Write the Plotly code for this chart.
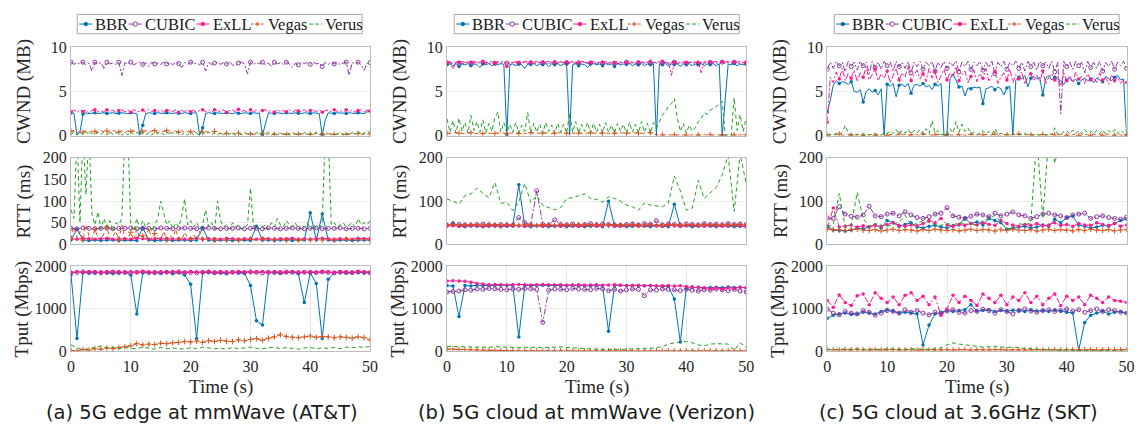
import plotly.graph_objects as go

W, H = 1144, 434

# ---------------- sampling grids (seconds) ----------------
T_HALF = [i / 2 for i in range(101)]
T_ONE = list(range(51))

# ================= (a) 5G edge at mmWave (AT&T) =================
A_CWND_BBR = [2.6,2.55,0.1,0.4,2.45,2.6,2.5,2.55,2.6,2.5,
              2.55,2.6,2.5,2.55,2.6,2.5,2.55,2.6,2.55,2.5,
              2.6,2.55,2.5,0.05,1.2,2.5,2.6,2.55,2.5,2.6,
              2.55,2.5,2.6,2.55,2.5,2.6,2.55,2.5,2.6,2.55,
              2.5,2.6,2.55,0.05,0.9,2.5,2.6,2.55,2.5,2.6,
              2.55,2.5,2.6,2.55,2.5,2.6,2.55,2.5,2.6,2.55,
              2.5,2.6,2.55,2.5,0.05,1.4,2.6,2.55,2.5,2.6,
              2.55,2.5,2.6,2.55,2.5,2.6,2.55,2.5,2.6,2.55,
              2.5,2.6,2.55,2.5,0.05,1.8,2.6,2.55,2.5,2.6,
              2.6,2.55,2.5,2.6,2.55,2.5,2.6,2.55,2.5,2.7,
              2.8]
A_CWND_CUBIC = [8.3,8.05,8.25,8.1,8.3,8.0,8.2,7.3,8.3,8.1,
                8.25,7.6,8.3,8.1,8.2,8.05,8.3,6.8,8.25,8.1,
                8.3,8.0,8.2,8.3,8.05,8.25,7.8,8.3,8.1,8.2,
                8.05,8.3,8.1,8.25,8.0,8.3,8.15,7.7,8.25,8.05,
                8.3,8.1,8.2,8.0,8.3,7.3,8.25,8.05,8.2,8.3,
                8.05,8.25,8.1,8.3,8.0,7.9,8.2,8.3,8.1,7.0,
                8.3,8.05,8.25,8.1,8.3,8.0,8.2,7.8,8.3,8.1,
                8.25,8.05,8.3,8.1,7.7,8.2,8.0,8.3,8.15,8.25,
                8.05,8.3,8.1,8.2,7.8,8.3,8.05,8.25,8.1,8.3,
                8.0,8.2,8.3,6.8,8.25,8.1,8.3,8.0,7.4,8.2,
                8.25]
A_CWND_EXLL = [2.7,2.9,2.65,2.95,2.75,2.9,2.6,2.85,2.95,2.7,
               2.85,2.65,2.95,2.75,2.9,2.6,2.85,2.95,2.7,2.9,
               2.65,2.95,2.8,2.7,2.9,2.65,3.0,2.75,2.85,2.7,
               2.95,2.65,2.85,2.9,2.7,2.95,2.65,2.85,2.75,2.95,
               2.7,2.9,2.65,2.85,2.95,2.7,2.9,2.65,2.95,2.8,
               2.7,2.95,2.65,2.85,2.9,2.7,3.0,2.75,2.85,2.65,
               2.95,2.7,2.9,2.65,2.85,2.95,2.7,2.9,2.65,2.95,
               2.75,2.85,2.7,2.95,2.65,2.9,2.8,2.7,2.95,2.65,
               2.85,2.9,2.7,2.95,2.65,2.85,2.9,2.7,2.95,2.75,
               2.85,2.65,2.95,2.7,2.9,2.65,2.85,2.95,2.7,2.9,
               2.8]
A_CWND_VEGAS = [0.5,0.6,0.3,0.55,0.4,0.6,0.35,0.55,0.5,0.3,
                0.6,0.45,0.55,0.3,0.6,0.5,0.4,0.6,0.35,0.55,
                0.5,0.6,0.3,0.55,0.45,0.6,0.4,0.5,0.6,0.35,
                0.55,0.45,0.6,0.3,0.5,0.55,0.4,0.6,0.35,0.5,
                0.45,0.55,0.3,0.5,0.4,0.55,0.35,0.45,0.5,0.3,
                0.25,0.2,0.3,0.15,0.25,0.2,0.3,0.15,0.2,0.25,
                0.2,0.15,0.25,0.2,0.3,0.15,0.2,0.25,0.15,0.2,
                0.25,0.2,0.15,0.3,0.2,0.25,0.15,0.2,0.25,0.2,
                0.15,0.2,0.25,0.2,0.15,0.3,0.2,0.25,0.15,0.2,
                0.25,0.2,0.15,0.2,0.3,0.2,0.25,0.15,0.2,0.25,
                0.2]
A_CWND_VERUS = [0.1,0.45,0.05,0.4,0.15,0.5,0.1,0.35,0.05,0.45,
                0.15,0.4,0.05,0.5,0.1,0.3,0.45,0.05,0.35,0.1,
                0.5,0.15,0.4,0.05,0.45,0.1,0.35,0.05,0.5,0.2,
                0.4,0.1,0.45,0.05,0.35,0.15,0.5,0.1,0.4,0.05,
                0.45,0.1,0.3,0.05,0.4,0.15,0.45,0.1,0.35,0.05,
                0.4,0.1,0.35,0.15,0.45,0.05,0.3,0.1,0.4,0.15,
                0.35,0.05,0.4,0.1,0.3,0.15,0.45,0.05,0.35,0.1,
                0.4,0.15,0.3,0.05,0.45,0.1,0.35,0.15,0.4,0.05,
                0.3,0.1,0.45,0.15,0.35,0.05,0.4,0.1,0.3,0.15,
                0.45,0.05,0.35,0.1,0.4,0.15,0.5,0.1,0.35,0.55,
                0.3]

A_RTT_BBR = [10,35,10,9,10,9,10,10,9,10,
             10,9,38,10,9,10,10,9,10,10,
             9,10,38,10,9,10,10,9,10,10,
             9,42,10,10,9,10,10,9,10,10,
             73,10,70,10,9,10,10,9,10,10,
             10]
A_RTT_CUBIC = [37,36,38,37,36,37,38,36,37,37,
               38,36,37,37,36,38,37,36,37,38,
               37,36,37,38,37,36,37,37,38,36,
               37,37,36,38,37,36,37,38,37,36,
               37,38,36,37,37,38,36,37,37,36,
               37]
A_RTT_EXLL = [13,12,14,13,12,13,14,12,13,13,
              12,14,13,12,13,13,14,12,13,12,
              13,14,12,13,13,12,14,13,12,13,
              13,12,14,13,12,13,13,14,12,13,
              12,13,14,13,12,13,13,12,14,13,
              14]
A_RTT_VEGAS = [12,40,15,30,10,45,20,12,35,15,
               10,25,40,12,18,30,10,45,15,12,
               28,10,35,15,20,12,38,10,25,14,
               12,30,10,20,15,35,12,10,28,15,
               12,22,10,30,12,18,10,11,10,11,
               10,12,10,11,10,11,10,11,10,11,
               12,10,11,10,11,10,11,10,11,10,
               12,11,10,11,10,11,10,11,10,11,
               10,12,10,11,10,11,10,11,10,11,
               10,11,12,10,11,10,11,10,11,10,
               11]
A_RTT_VERUS = [80,60,260,50,260,115,260,70,45,75,
               35,60,40,55,30,50,45,60,260,260,
               45,30,60,35,55,40,50,30,45,60,
               100,70,45,55,35,50,40,65,105,45,
               55,40,50,35,45,80,40,50,35,100,
               55,40,45,35,50,40,45,35,40,45,
               130,40,45,35,40,45,35,50,40,60,
               45,40,55,45,40,50,35,45,40,50,
               35,45,40,35,50,260,260,45,50,40,
               45,50,40,45,50,40,60,45,50,45,
               55]

A_TPUT_BBR = [1800,300,1850,1860,1840,1870,1850,1830,1860,1850,
              1800,880,1850,1860,1840,1850,1870,1830,1850,1800,
              1580,300,1850,1860,1840,1850,1830,1860,1850,1840,
              1550,720,620,1850,1860,1840,1850,1870,1830,1150,
              1850,1600,300,1700,1850,1860,1840,1850,1860,1850,
              1850]
A_TPUT_CUBIC = [1850,1860,1870,1855,1865,1850,1860,1870,1855,1860,
                1850,1865,1870,1855,1860,1850,1865,1860,1870,1855,
                1860,1850,1865,1870,1855,1860,1850,1865,1860,1855,
                1870,1860,1850,1865,1860,1855,1870,1860,1850,1865,
                1860,1855,1870,1860,1850,1865,1860,1855,1870,1860,
                1850]
A_TPUT_EXLL = [1860,1875,1865,1880,1870,1860,1875,1870,1880,1865,
               1875,1860,1880,1870,1865,1875,1860,1880,1870,1865,
               1875,1870,1860,1880,1865,1875,1870,1860,1880,1875,
               1865,1870,1880,1860,1875,1870,1865,1880,1870,1860,
               1875,1865,1880,1870,1860,1875,1870,1865,1880,1870,
               1875]
A_TPUT_VEGAS = [20,10,40,30,60,50,80,60,90,110,
                130,180,150,170,160,190,180,200,210,230,
                220,240,210,250,230,260,240,230,270,250,
                280,300,260,310,340,390,350,330,320,340,
                360,330,350,340,320,340,330,310,340,320,
                270]
A_TPUT_VERUS = [150,80,40,60,90,130,70,100,60,90,
                80,60,100,70,50,90,60,80,70,50,
                90,60,100,80,60,70,50,90,60,80,
                100,70,60,80,100,60,90,70,50,80,
                90,60,80,70,90,60,100,80,110,90,
                120]

# ================= (b) 5G cloud at mmWave (Verizon) =================
B_CWND_BBR = [8.0,8.1,7.9,8.15,7.8,8.1,8.0,8.15,7.9,8.1,
              8.05,7.7,8.1,8.0,8.15,7.9,8.1,8.0,8.15,8.05,
              0.05,8.0,8.1,7.9,8.15,8.0,7.6,8.1,8.05,8.15,
              7.9,8.1,8.0,8.15,7.8,8.1,8.0,8.15,7.9,8.1,
              8.1,0.05,8.0,8.15,7.9,8.1,8.0,7.7,8.1,8.15,
              8.0,8.1,7.9,8.15,8.0,8.1,7.8,8.15,8.0,8.1,
              8.05,8.15,7.9,8.1,8.0,8.15,7.9,8.1,8.0,8.15,
              0.0,8.1,8.0,8.15,7.9,8.1,8.0,8.15,7.8,8.1,
              8.0,8.15,7.9,8.1,8.05,8.15,7.9,8.1,8.0,8.15,
              7.9,8.1,0.0,4.2,8.1,8.0,8.15,7.9,8.1,8.0,
              8.1]
B_CWND_CUBIC = [8.2,8.25,8.15,8.3,8.2,8.1,8.25,8.3,8.15,8.2,
                8.3,8.15,8.25,8.2,8.1,8.3,8.2,8.25,8.15,8.3,
                8.2,8.1,8.25,8.3,8.15,8.2,8.3,8.1,8.25,8.2,
                8.15,8.3,8.2,8.25,8.1,8.3,8.2,8.15,8.25,8.3,
                8.2,8.15,8.3,8.1,8.25,8.2,8.3,8.15,8.2,8.25,
                8.1,8.3,8.2,8.25,8.15,8.3,8.2,8.1,8.25,8.2,
                8.3,8.15,8.25,8.2,8.1,8.3,8.2,8.25,8.15,8.3,
                8.2,8.1,8.25,8.3,8.15,8.2,8.3,8.1,8.25,8.2,
                8.15,8.3,8.2,8.25,8.1,8.3,8.2,8.15,8.25,8.3,
                8.2,8.15,8.3,8.1,8.25,8.2,8.3,8.15,8.2,8.25,
                8.2]
B_CWND_EXLL = [8.3,8.4,7.5,8.35,8.3,8.4,8.25,8.35,8.3,8.45,
               8.2,8.35,8.4,8.25,8.3,8.4,8.2,8.35,8.3,8.4,
               7.8,8.35,8.25,8.4,8.3,8.2,8.4,8.35,8.25,8.3,
               8.4,8.2,8.35,8.3,8.4,8.25,8.35,8.2,8.4,8.3,
               8.35,8.25,8.4,8.3,8.2,8.4,8.35,8.25,8.3,8.4,
               8.2,8.35,8.3,8.4,8.25,8.35,8.2,8.4,8.3,8.35,
               8.25,8.4,8.3,8.2,8.35,8.4,8.25,8.3,8.4,8.2,
               8.35,8.3,8.4,8.25,8.35,6.8,8.3,8.4,8.2,8.35,
               8.3,8.4,8.25,8.35,8.3,7.1,8.4,8.25,8.35,8.3,
               8.4,8.2,8.35,8.3,8.4,8.25,8.35,8.3,8.4,8.25,
               8.3]
B_CWND_VEGAS = [0.3,0.25,0.3,0.35,0.3,0.25,0.3,0.3,0.35,0.25,
                0.3,0.3,0.25,0.35,0.3,0.3,0.25,0.3,0.35,0.3,
                0.25,0.3,0.3,0.35,0.25,0.3,0.3,0.25,0.35,0.3,
                0.3,0.25,0.3,0.35,0.3,0.25,0.3,0.3,0.35,0.25,
                0.3,0.3,0.25,0.35,0.3,0.3,0.25,0.3,0.35,0.3,
                0.25,0.3,0.3,0.35,0.25,0.3,0.3,0.25,0.35,0.3,
                0.3,0.25,0.3,0.35,0.3,0.25,0.3,0.3,0.35,0.25,
                0.1,0.08,0.1,0.12,0.08,0.1,0.1,0.08,0.12,0.1,
                0.08,0.1,0.1,0.12,0.08,0.1,0.1,0.08,0.12,0.1,
                0.1,0.08,0.1,0.12,0.1,0.08,0.1,0.1,0.12,0.08,
                0.1]
B_CWND_VERUS = [1.9,0.4,1.7,0.3,2.0,0.5,1.5,0.3,2.3,0.6,
                1.6,0.4,1.8,0.3,1.4,0.5,2.0,2.7,0.4,1.5,
                0.3,1.3,0.4,1.5,0.3,1.2,0.5,2.6,0.3,1.4,
                0.4,1.3,0.3,1.5,0.5,1.2,0.3,1.4,0.4,1.3,
                0.3,2.6,0.4,1.6,0.3,1.3,0.5,1.5,0.3,1.4,
                0.4,1.3,0.3,1.5,0.4,1.2,0.3,1.4,0.5,1.3,
                0.3,1.5,0.4,1.3,0.3,1.6,0.4,1.4,0.3,1.5,
                0.9,1.6,2.3,2.8,3.3,3.6,4.2,2.0,0.5,1.4,
                0.3,1.2,0.5,0.9,1.6,2.0,2.6,2.4,2.9,3.1,
                3.3,3.6,3.9,0.0,0.0,0.0,4.3,0.6,2.4,0.5,
                2.0]

B_RTT_BBR = [43,50,42,41,43,42,41,42,43,41,
             42,43,138,42,41,43,42,41,42,43,
             41,42,43,41,42,43,41,100,42,43,
             41,42,43,42,41,43,42,41,93,42,
             43,41,42,43,42,41,43,42,41,42,
             41]
B_RTT_CUBIC = [44,45,46,45,44,46,47,45,44,46,
               45,44,62,50,45,124,46,45,57,46,
               45,47,44,46,48,45,47,46,45,44,
               46,47,45,48,46,55,45,47,46,45,
               47,46,45,48,46,47,45,48,46,47,
               46]
B_RTT_EXLL = [43,44,42,43,44,43,42,43,44,42,
              43,44,43,42,44,43,42,44,43,42,
              44,43,42,43,44,42,43,44,43,42,
              43,44,42,43,44,43,42,44,43,42,
              43,44,43,42,44,43,42,43,44,43,
              42]
B_RTT_VEGAS = [45,46,44,45,46,45,44,46,45,44,
               46,45,44,46,45,44,46,45,44,46,
               45,44,46,45,44,46,45,44,46,45,
               44,46,45,44,46,45,44,46,45,44,
               46,45,44,46,45,44,46,45,44,46,
               45]
B_RTT_VERUS = [105,100,93,113,117,130,118,108,143,95,
               97,78,98,141,97,113,90,85,80,85,
               106,108,112,117,106,104,98,110,106,100,
               91,87,79,96,91,89,87,95,158,124,
               79,84,148,106,120,132,161,205,76,210,
               140]

B_TPUT_BBR = [1550,1540,820,1550,1540,1560,1550,1545,1550,1560,
              1550,1555,340,1550,1545,1560,1555,1550,1560,1545,
              1550,1555,1545,1550,1540,1550,1545,470,1550,1560,
              1545,1550,1540,1545,1550,1540,1535,1530,1230,220,
              1490,1500,1510,1495,1505,1510,1500,1515,1505,1510,
              1500]
B_TPUT_CUBIC = [1400,1410,1420,1450,1440,1470,1460,1480,1470,1460,
                1450,1470,1460,1480,1470,1460,680,1440,1470,1460,
                1450,1480,1470,1460,1450,1480,1470,1430,1460,1420,
                1450,1470,1460,1310,1450,1440,1470,1460,1450,1430,
                1460,1440,1420,1450,1440,1470,1450,1430,1460,1420,
                1400]
B_TPUT_EXLL = [1660,1665,1660,1650,1630,1600,1580,1570,1575,1570,
               1565,1570,1575,1570,1565,1570,1575,1570,1565,1570,
               1560,1565,1570,1560,1565,1570,1560,1565,1570,1560,
               1550,1560,1555,1545,1550,1540,1545,1550,1540,1545,
               1530,1520,1510,1500,1480,1490,1470,1500,1480,1510,
               1500]
B_TPUT_VEGAS = [55,50,45,40,35,30,25,22,20,18,
                15,12,10,10,8,10,8,10,8,10,
                8,10,8,10,8,10,8,10,8,10,
                8,10,8,10,8,10,8,10,8,10,
                8,10,8,10,8,10,8,10,8,10,
                8]
B_TPUT_VERUS = [115,112,110,108,110,105,100,95,110,100,
                90,80,85,95,100,90,85,95,100,105,
                90,80,70,55,60,50,45,55,50,45,
                50,55,60,70,75,80,110,170,200,210,
                230,200,150,130,170,180,175,170,20,200,
                100]

# ================= (c) 5G cloud at 3.6GHz (SKT) =================
C_CWND_BBR = [2.7,4.0,5.7,6.2,5.9,6.1,6.0,5.8,6.1,5.0,
              4.9,5.2,3.8,5.0,5.3,4.9,5.1,4.6,5.3,0.1,
              5.8,5.6,5.9,4.4,5.7,5.8,5.5,5.9,4.8,5.7,
              5.8,5.6,5.9,5.5,5.7,5.2,5.8,5.6,5.9,0.05,
              0.1,6.4,7.0,6.3,5.5,5.6,4.5,5.4,5.3,5.5,
              5.4,5.5,3.6,5.3,5.4,5.6,5.2,5.5,5.3,4.6,
              5.4,5.6,0.05,6.3,6.6,6.4,6.8,5.5,6.5,6.7,
              6.4,6.6,4.6,6.5,6.8,6.3,6.6,6.4,6.2,5.8,
              6.3,6.5,6.1,6.4,5.9,6.3,6.5,6.2,6.4,6.0,
              6.5,6.3,6.1,6.7,6.4,6.2,6.6,6.8,6.3,6.4,
              0.05]
C_CWND_CUBIC = [7.5,8.3,7.6,8.4,7.9,8.3,7.2,8.4,7.8,8.3,
                7.4,8.4,7.9,8.3,7.0,8.4,7.7,8.3,7.5,8.4,
                7.9,8.3,7.3,8.4,7.8,8.3,7.6,8.4,7.1,8.3,
                7.8,8.4,7.5,8.3,7.9,8.4,7.3,8.3,7.7,8.4,
                7.6,8.3,7.9,8.4,7.2,8.3,7.8,8.4,7.5,8.3,
                7.9,8.4,7.4,8.3,7.7,8.4,7.0,8.3,7.8,8.4,
                7.5,8.3,7.9,8.4,7.6,8.3,7.3,8.4,7.8,8.3,
                7.4,8.4,7.9,8.3,7.6,8.4,7.2,8.3,2.5,8.4,
                7.8,8.3,7.5,8.4,7.9,8.3,7.1,8.4,7.7,8.3,
                7.6,8.4,7.3,8.3,7.8,8.4,7.5,8.3,7.9,8.4,
                7.6]
C_CWND_EXLL = [1.5,6.6,6.0,7.2,6.4,7.6,6.2,7.0,6.5,7.4,
               6.1,7.1,6.6,7.8,6.3,6.9,7.5,6.2,7.0,6.5,
               7.3,6.0,6.8,7.6,6.3,7.1,6.6,7.9,6.2,6.9,
               7.4,6.4,7.0,6.1,7.6,6.5,7.2,6.0,6.8,7.5,
               6.3,7.1,6.6,7.8,6.2,6.9,7.3,6.0,6.7,7.4,
               6.1,7.0,6.5,7.6,6.2,6.8,7.3,5.9,6.6,7.1,
               6.3,7.5,6.0,6.9,6.4,7.2,5.8,6.7,7.0,6.2,
               6.8,6.1,7.3,5.9,6.6,7.0,6.3,6.8,5.6,7.1,
               6.2,6.8,6.0,7.2,6.4,6.7,5.9,7.0,6.3,6.6,
               6.0,7.1,6.3,6.5,5.8,6.9,6.2,6.6,5.9,6.3,
               6.0]
C_CWND_VEGAS = [0.1,0.05,0.15,0.1,0.2,0.05,0.1,0.15,0.05,0.1,
                0.15,0.1,0.05,0.2,0.1,0.15,0.05,0.1,0.2,0.1,
                0.05,0.15,0.1,0.05,0.2,0.1,0.15,0.05,0.1,0.15,
                0.1,0.05,0.2,0.1,0.15,0.05,0.1,0.2,0.1,0.05,
                0.15,0.1,0.05,0.2,0.1,0.15,0.05,0.1,0.15,0.1,
                0.05,0.2,0.1,0.15,0.05,0.1,0.2,0.1,0.05,0.15,
                0.1,0.05,0.15,0.1,0.2,0.05,0.1,0.15,0.1,0.05,
                0.2,0.1,0.15,0.05,0.1,0.2,0.1,0.05,0.15,0.1,
                0.05,0.15,0.1,0.2,0.05,0.1,0.15,0.1,0.05,0.2,
                0.1,0.15,0.05,0.1,0.2,0.1,0.05,0.15,0.1,0.05,
                0.1]
C_CWND_VERUS = [0.1,0.2,0.05,0.3,0.1,0.4,1.2,0.3,0.1,0.2,
                0.05,0.3,0.1,0.25,0.05,0.3,0.15,0.2,0.05,0.3,
                0.2,0.6,0.25,0.7,0.2,0.65,0.3,0.75,0.2,0.6,
                0.3,0.7,0.2,0.8,0.25,1.7,0.3,0.6,0.1,0.2,
                0.1,0.8,0.3,1.6,0.4,1.3,0.5,0.9,0.2,0.4,
                0.1,0.3,0.6,0.2,0.5,0.15,0.8,0.2,0.3,0.1,
                0.2,0.1,0.3,0.05,0.2,0.1,0.3,0.05,0.2,0.1,
                0.15,0.05,0.2,0.1,0.3,0.1,0.9,0.2,0.1,0.5,
                0.6,0.2,0.65,0.25,0.6,0.2,0.7,0.3,0.55,0.2,
                0.6,0.25,0.65,0.2,0.6,0.3,0.7,0.2,0.65,0.3,
                0.6]

C_RTT_BBR = [42,33,32,31,33,38,36,40,45,38,
             55,50,42,46,50,40,38,42,44,40,
             38,43,45,60,48,52,45,60,55,50,
             35,38,40,42,38,40,45,42,58,50,
             62,65,45,42,38,40,44,42,48,55,
             58]
C_RTT_CUBIC = [61,60,87,70,65,63,68,88,66,64,
               70,72,66,75,68,62,60,64,70,72,
               85,66,63,60,65,70,68,64,72,66,
               70,75,68,66,60,64,70,72,68,66,
               62,68,70,72,60,64,66,62,60,58,
               63]
C_RTT_EXLL = [38,84,40,42,45,40,43,41,44,42,
              46,50,44,42,45,43,48,55,50,60,
              45,42,46,44,48,45,50,46,44,55,
              48,45,42,46,44,48,43,45,50,44,
              46,42,48,45,44,50,46,44,48,42,
              45]
C_RTT_VEGAS = [35,34,33,32,34,35,33,32,34,31,
               33,35,32,34,33,31,34,32,35,33,
               32,34,31,33,35,32,34,33,31,34,
               32,35,33,32,34,31,33,35,32,34,
               33,31,34,32,35,33,32,34,31,33,
               34]
C_RTT_VERUS = [41,45,118,40,45,120,60,40,48,44,
               42,46,52,67,45,48,55,50,46,44,
               48,45,50,48,46,44,55,60,67,50,
               35,40,48,45,50,250,60,250,187,250,
               250,250,250,250,250,250,250,250,250,250,
               250]

C_TPUT_BBR = [780,850,880,900,870,880,920,900,880,940,
              980,950,900,920,900,880,150,620,880,920,
              960,940,960,980,1100,950,960,980,940,960,
              950,970,960,940,980,950,960,940,980,950,
              920,900,20,680,850,900,950,880,920,940,
              900]
C_TPUT_CUBIC = [990,900,860,940,900,880,960,920,850,900,
                960,940,900,980,920,960,900,860,920,880,
                950,980,920,900,960,940,990,960,900,980,
                940,880,960,1000,950,920,960,980,940,960,
                1000,950,980,920,960,1000,940,980,960,920,
                900]
C_TPUT_EXLL = [1200,1040,1330,1150,1080,1310,1350,1100,1380,1250,
               1150,1280,1100,1320,1380,1200,1300,1100,1280,850,
               1000,1320,1150,1300,1200,1080,1350,1250,1150,1320,
               1100,1280,1200,1380,1150,1300,1100,1250,1350,1080,
               1300,1200,1280,1100,1320,1250,1150,1280,1200,1180,
               1150]
C_TPUT_VEGAS = [40,35,30,38,32,40,35,30,38,33,
                36,40,32,35,38,30,36,40,33,35,
                38,32,36,40,30,35,38,33,36,40,
                32,35,38,30,36,40,33,35,38,32,
                36,40,30,35,38,33,36,40,32,35,
                38]
C_TPUT_VERUS = [50,40,55,45,50,60,45,55,50,45,
                60,55,50,45,60,55,50,45,60,80,
                150,200,170,150,130,120,100,110,120,100,
                90,100,80,70,60,50,40,30,25,20,
                30,20,15,20,10,15,20,10,15,10,
                15]

SERIES = ["BBR", "CUBIC", "ExLL", "Vegas", "Verus"]
CAPTIONS = ["(a) 5G edge at mmWave (AT&T)", "(b) 5G cloud at mmWave (Verizon)",
            "(c) 5G cloud at 3.6GHz (SKT)"]
Y_TITLES = ["CWND (MB)", "RTT (ms)", "Tput (Mbps)"]
X_TITLE = "Time (s)"

# panel data: (column, row) -> series -> (time, values)
PANELS = {
    (0, 0): {"BBR": (T_HALF, A_CWND_BBR), "CUBIC": (T_HALF, A_CWND_CUBIC), "ExLL": (T_HALF, A_CWND_EXLL),
             "Vegas": (T_HALF, A_CWND_VEGAS), "Verus": (T_HALF, A_CWND_VERUS)},
    (0, 1): {"BBR": (T_ONE, A_RTT_BBR), "CUBIC": (T_ONE, A_RTT_CUBIC), "ExLL": (T_ONE, A_RTT_EXLL),
             "Vegas": (T_HALF, A_RTT_VEGAS), "Verus": (T_HALF, A_RTT_VERUS)},
    (0, 2): {"BBR": (T_ONE, A_TPUT_BBR), "CUBIC": (T_ONE, A_TPUT_CUBIC), "ExLL": (T_ONE, A_TPUT_EXLL),
             "Vegas": (T_ONE, A_TPUT_VEGAS), "Verus": (T_ONE, A_TPUT_VERUS)},
    (1, 0): {"BBR": (T_HALF, B_CWND_BBR), "CUBIC": (T_HALF, B_CWND_CUBIC), "ExLL": (T_HALF, B_CWND_EXLL),
             "Vegas": (T_HALF, B_CWND_VEGAS), "Verus": (T_HALF, B_CWND_VERUS)},
    (1, 1): {"BBR": (T_ONE, B_RTT_BBR), "CUBIC": (T_ONE, B_RTT_CUBIC), "ExLL": (T_ONE, B_RTT_EXLL),
             "Vegas": (T_ONE, B_RTT_VEGAS), "Verus": (T_ONE, B_RTT_VERUS)},
    (1, 2): {"BBR": (T_ONE, B_TPUT_BBR), "CUBIC": (T_ONE, B_TPUT_CUBIC), "ExLL": (T_ONE, B_TPUT_EXLL),
             "Vegas": (T_ONE, B_TPUT_VEGAS), "Verus": (T_ONE, B_TPUT_VERUS)},
    (2, 0): {"BBR": (T_HALF, C_CWND_BBR), "CUBIC": (T_HALF, C_CWND_CUBIC), "ExLL": (T_HALF, C_CWND_EXLL),
             "Vegas": (T_HALF, C_CWND_VEGAS), "Verus": (T_HALF, C_CWND_VERUS)},
    (2, 1): {"BBR": (T_ONE, C_RTT_BBR), "CUBIC": (T_ONE, C_RTT_CUBIC), "ExLL": (T_ONE, C_RTT_EXLL),
             "Vegas": (T_ONE, C_RTT_VEGAS), "Verus": (T_ONE, C_RTT_VERUS)},
    (2, 2): {"BBR": (T_ONE, C_TPUT_BBR), "CUBIC": (T_ONE, C_TPUT_CUBIC), "ExLL": (T_ONE, C_TPUT_EXLL),
             "Vegas": (T_ONE, C_TPUT_VEGAS), "Verus": (T_ONE, C_TPUT_VERUS)},
}

# ---------------- styling ----------------
COLORS = {"BBR": "#0072BD", "CUBIC": "#8A3A9E", "ExLL": "#FF1A92", "Vegas": "#D95319", "Verus": "#23A023"}
DASH = {"BBR": "solid", "CUBIC": "6px,2px,2px,2px", "ExLL": "6px,2px,2px,2px",
        "Vegas": "4px,3px", "Verus": "4px,3px"}
SYMBOL = {"BBR": "circle", "CUBIC": "circle-open", "ExLL": "circle", "Vegas": "cross-thin", "Verus": None}
MSIZE = {"BBR": 3.5, "CUBIC": 4, "ExLL": 3.5, "Vegas": 4}

SERIF = "Liberation Serif, Times New Roman, serif"
SANS = "DejaVu Sans, Verdana, sans-serif"
INK = "#262626"

X_DOM_PX = [(67.7, 370.0), (447.7, 750.0), (832.0, 1134.5)]
Y_DOM_PX = [(40.7, 133.0), (156.0, 246.0), (269.0, 357.3)]
Y_RANGE = [(0, 10), (0, 200), (0, 2000)]
Y_DTICK = [[5, 50, 1000], [5, 100, 1000], [5, 100, 1000]]


def px_x(p):
    return p / W


def px_y(p):
    return 1 - p / H


fig = go.Figure()
layout = {}

for (col, row), series in PANELS.items():
    idx = row * 3 + col + 1
    xs = "" if idx == 1 else str(idx)
    xref, yref = "x" + xs, "y" + xs
    for name in SERIES:
        t, v = series[name]
        c = COLORS[name]
        fig.add_trace(go.Scatter(x=t, y=v, mode="lines", xaxis=xref, yaxis=yref,
                                 line=dict(color=c, width=1, dash=DASH[name]),
                                 showlegend=False, hoverinfo="skip"))
        sym = SYMBOL[name]
        if sym:
            step = 4 if len(t) > 60 else 1
            mk = dict(symbol=sym, size=MSIZE[name], color=c)
            if sym in ("circle-open", "cross-thin"):
                mk["line"] = dict(color=c, width=1)
            else:
                mk["line"] = dict(width=0)
            fig.add_trace(go.Scatter(x=t[::step], y=v[::step], mode="markers", xaxis=xref, yaxis=yref,
                                     marker=mk, showlegend=False, hoverinfo="skip"))
    x0, x1 = X_DOM_PX[col]
    y0, y1 = Y_DOM_PX[row]
    layout["xaxis" + xs] = dict(
        domain=[px_x(x0), px_x(x1)], anchor=yref, range=[0, 50], dtick=10, tick0=0,
        showticklabels=(row == 2), showgrid=(row == 2), gridcolor="#E8E8E8", zeroline=False,
        showline=True, mirror=True, linecolor="#BDBDBD", linewidth=1, ticks="",
        tickfont=dict(family=SERIF, size=16, color=INK))
    layout["yaxis" + xs] = dict(
        domain=[px_y(y1), px_y(y0)], anchor=xref, range=list(Y_RANGE[row]),
        dtick=Y_DTICK[col][row], tick0=0, showgrid=True, gridcolor="#ECECEC", zeroline=False,
        showline=True, mirror=True, linecolor="#BDBDBD", linewidth=1, ticks="",
        tickfont=dict(family=SERIF, size=16, color=INK))

annotations = []
shapes = []

for col in range(3):
    x0, x1 = X_DOM_PX[col]
    for row in range(3):
        y0, y1 = Y_DOM_PX[row]
        off = 50 if row == 2 else 47
        annotations.append(dict(text=Y_TITLES[row], x=px_x(x0 - off), y=px_y((y0 + y1) / 2),
                                xref="paper", yref="paper", showarrow=False, textangle=-90,
                                xanchor="center", yanchor="middle",
                                font=dict(family=SERIF, size=19, color=INK)))
    annotations.append(dict(text=X_TITLE, x=px_x((x0 + x1) / 2), y=px_y(394), xref="paper", yref="paper",
                            showarrow=False, xanchor="center", yanchor="middle",
                            font=dict(family=SERIF, size=19, color=INK)))

CAPTION_X = [200, 589, 965]
for col in range(3):
    annotations.append(dict(text=CAPTIONS[col], x=px_x(CAPTION_X[col]), y=px_y(421), xref="paper",
                            yref="paper", showarrow=False, xanchor="center", yanchor="middle",
                            font=dict(family=SANS, size=19.5, color="#1A1A1A")))

# ---------------- legends (one box per column) ----------------
LEG_LEFT = [74, 455, 839]
LEG_W, LEG_TOP, LEG_BOT = 288, 6.7, 26.7
KEY_OFF = [2, 52, 120.3, 175.3, 234.3]
TXT_OFF = [16, 66.7, 135.3, 190.3, 248.7]
KEY_LEN = 13.3
KEY_DASH = {"BBR": "solid", "CUBIC": "solid", "ExLL": "solid", "Vegas": "3px,2px", "Verus": "4px,2px"}
yc = (LEG_TOP + LEG_BOT) / 2
for col in range(3):
    L = LEG_LEFT[col]
    shapes.append(dict(type="rect", xref="paper", yref="paper", x0=px_x(L), x1=px_x(L + LEG_W),
                       y0=px_y(LEG_BOT), y1=px_y(LEG_TOP), line=dict(color="#A8A8A8", width=1),
                       fillcolor="white", layer="above"))
    for i, name in enumerate(SERIES):
        c = COLORS[name]
        kx = L + KEY_OFF[i]
        shapes.append(dict(type="line", xref="paper", yref="paper", x0=px_x(kx), x1=px_x(kx + KEY_LEN),
                           y0=px_y(yc), y1=px_y(yc), line=dict(color=c, width=1, dash=KEY_DASH[name])))
        mx = kx + KEY_LEN / 2
        sym = SYMBOL[name]
        if sym in ("circle", "circle-open"):
            r = 1.8 if sym == "circle" else 2.3
            shapes.append(dict(type="circle", xref="paper", yref="paper",
                               x0=px_x(mx - r), x1=px_x(mx + r), y0=px_y(yc + r), y1=px_y(yc - r),
                               line=dict(color=c, width=1),
                               fillcolor=c if sym == "circle" else "white"))
        elif sym == "cross-thin":
            r = 2.3
            shapes.append(dict(type="line", xref="paper", yref="paper", x0=px_x(mx - r), x1=px_x(mx + r),
                               y0=px_y(yc), y1=px_y(yc), line=dict(color=c, width=1)))
            shapes.append(dict(type="line", xref="paper", yref="paper", x0=px_x(mx), x1=px_x(mx),
                               y0=px_y(yc - r), y1=px_y(yc + r), line=dict(color=c, width=1)))
        annotations.append(dict(text=name, x=px_x(L + TXT_OFF[i]), y=px_y(yc + 0.5), xref="paper",
                                yref="paper", showarrow=False, xanchor="left", yanchor="middle",
                                font=dict(family=SERIF, size=16.5, color="#1A1A1A")))

fig.update_layout(**layout)
fig.update_layout(width=W, height=H, margin=dict(l=0, r=0, t=0, b=0), autosize=False,
                  paper_bgcolor="white", plot_bgcolor="white", showlegend=False,
                  annotations=annotations, shapes=shapes)

fig.write_html("out.html", config={"displayModeBar": False})
